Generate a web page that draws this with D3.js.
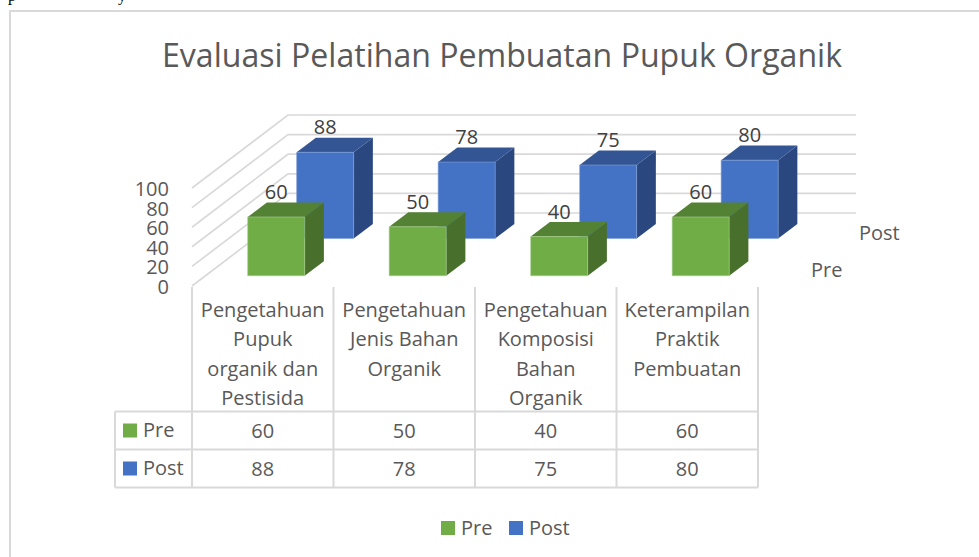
<!DOCTYPE html>
<html lang="id">
<head>
    <meta charset="UTF-8">
    <script src="https://d3js.org/d3.v7.min.js"></script>
    <style>
        html, body { margin: 0; padding: 0; background: #fff; overflow: hidden; }
        text { font-family: "Open Sans", Lato, sans-serif; fill: #595959; }
    </style>
</head>
<body>
    <svg id="chart" width="979" height="557"></svg>
    <script>
        const title = "Evaluasi Pelatihan Pembuatan Pupuk Organik";
        const categories = ["c1", "c2", "c3", "c4"];
        const categoryLines = [
            ["Pengetahuan", "Pupuk", "organik dan", "Pestisida"],
            ["Pengetahuan", "Jenis Bahan", "Organik"],
            ["Pengetahuan", "Komposisi", "Bahan", "Organik"],
            ["Keterampilan", "Praktik", "Pembuatan"]
        ];
        const seriesNames = ["Pre", "Post"];
        const preValues = [60, 50, 40, 60];
        const postValues = [88, 78, 75, 80];
        const yTicks = [0, 20, 40, 60, 80, 100];

        const svg = d3.select("#chart");
        const gridColor = "#d9d9d9";
        const labelSize = "20px";
        const faces = {
            Pre: { front: "#70ad47", top: "#548235", side: "#48702c", edge: "#a5cf8c" },
            Post: { front: "#4472c4", top: "#335593", side: "#2a4780", edge: "#7f9fd8" }
        };

        // chart frame
        svg.append("path")
            .attr("d", "M10,557V11H979")
            .attr("fill", "none")
            .attr("stroke", gridColor)
            .attr("stroke-width", 2);

        // line of page text above the chart, cut off in the source
        svg.append("text")
            .attr("x", 8).attr("y", 1)
            .style("font-family", "'Liberation Serif', serif")
            .style("font-size", "16px")
            .style("fill", "#000")
            .text("p");
        svg.append("text")
            .attr("x", 118).attr("y", 1)
            .style("font-family", "'Liberation Serif', serif")
            .style("font-size", "16px")
            .style("fill", "#000")
            .text("y");

        svg.append("text")
            .attr("x", 502).attr("y", 67)
            .attr("text-anchor", "middle")
            .attr("textLength", 680)
            .attr("lengthAdjust", "spacingAndGlyphs")
            .style("font-size", "32px")
            .text(title);

        // 3d projection: category band, value, depth (0 = front wall, 1 = back wall)
        const x = d3.scaleBand().domain(categories).range([192, 758]);
        const y = d3.scaleLinear().domain([0, 100]).range([286, 188]);
        const depth = d3.scaleLinear().domain([0, 1]).range([0, 96]);
        const rise = d3.scaleLinear().domain([0, 1]).range([0, 73]);
        const project = (px, v, d) => [px + depth(d), y(v) - rise(d)];
        const poly = pts => d3.line()(pts) + "Z";

        // gridlines across side wall and back wall
        svg.append("g").selectAll("path")
            .data(yTicks)
            .join("path")
            .attr("d", v => d3.line()([project(x.range()[0], v, 0), project(x.range()[0], v, 1), [856, project(x.range()[0], v, 1)[1]]]))
            .attr("fill", "none")
            .attr("stroke", gridColor)
            .attr("stroke-width", 1.7);

        // y tick labels
        svg.append("g").selectAll("text")
            .data(yTicks)
            .join("text")
            .attr("x", 169)
            .attr("y", v => y(v) + 8)
            .attr("text-anchor", "end")
            .style("font-size", labelSize)
            .text(v => v);

        // bars, Post (back row) is drawn first
        const seriesDepth = { Pre: 0.14, Post: 0.65 };
        const barDepth = 0.2;
        const barWidth = 57;
        const rows = [
            { name: "Post", values: postValues },
            { name: "Pre", values: preValues }
        ];

        rows.forEach(row => {
            const c = faces[row.name];
            const d0 = seriesDepth[row.name], d1 = d0 + barDepth;
            const g = svg.append("g");
            const bars = g.selectAll("g")
                .data(row.values.map((v, i) => ({ v, cat: categories[i] })))
                .join("g");
            const left = d => x(d.cat) + x.bandwidth() / 2 - barWidth / 2;
            bars.append("path").attr("fill", c.side)
                .attr("d", d => poly([
                    project(left(d) + barWidth, d.v, d0), project(left(d) + barWidth, d.v, d1),
                    project(left(d) + barWidth, 0, d1), project(left(d) + barWidth, 0, d0)
                ]));
            bars.append("path").attr("fill", c.top)
                .attr("d", d => poly([
                    project(left(d), d.v, d0), project(left(d), d.v, d1),
                    project(left(d) + barWidth, d.v, d1), project(left(d) + barWidth, d.v, d0)
                ]));
            bars.append("path").attr("fill", c.front)
                .attr("stroke", c.edge).attr("stroke-width", 0.6)
                .attr("d", d => poly([
                    project(left(d), d.v, d0), project(left(d) + barWidth, d.v, d0),
                    project(left(d) + barWidth, 0, d0), project(left(d), 0, d0)
                ]));
            bars.append("text")
                .attr("x", d => project(left(d) + barWidth / 2, d.v, d0)[0])
                .attr("y", d => project(left(d), d.v, d0)[1] - 18)
                .attr("text-anchor", "middle")
                .style("font-size", labelSize)
                .style("fill", "#404040")
                .text(d => d.v);
        });

        // depth axis labels
        svg.append("text").attr("x", 859).attr("y", 240).style("font-size", labelSize).text(seriesNames[1]);
        svg.append("text").attr("x", 811).attr("y", 277).style("font-size", labelSize).text(seriesNames[0]);

        // data table
        const rowTop = 411.5, rowH = 38;
        const rowY = d3.scaleBand().domain(seriesNames).range([rowTop, rowTop + 2 * rowH]);
        const tableLeft = 115;
        const table = svg.append("g").attr("stroke", gridColor).attr("stroke-width", 2);

        x.domain().concat("end").forEach((c, i) => {
            const px = i < categories.length ? x(c) : x.range()[1];
            table.append("line")
                .attr("x1", px).attr("x2", px)
                .attr("y1", 287).attr("y2", rowTop + 2 * rowH);
        });
        [rowTop, rowTop + rowH, rowTop + 2 * rowH].forEach(py => {
            table.append("line")
                .attr("x1", tableLeft).attr("x2", x.range()[1])
                .attr("y1", py).attr("y2", py);
        });
        table.append("line")
            .attr("x1", tableLeft).attr("x2", tableLeft)
            .attr("y1", rowTop).attr("y2", rowTop + 2 * rowH);

        categoryLines.forEach((lines, i) => {
            svg.append("g").selectAll("text")
                .data(lines)
                .join("text")
                .attr("x", x(categories[i]) + x.bandwidth() / 2)
                .attr("y", (d, j) => 316.5 + j * 29.5)
                .attr("text-anchor", "middle")
                .style("font-size", labelSize)
                .text(d => d);
        });

        rows.slice().reverse().forEach(row => {
            const top = rowY(row.name);
            svg.append("rect")
                .attr("x", 123).attr("y", top + 12)
                .attr("width", 14).attr("height", 14)
                .attr("fill", faces[row.name].front);
            svg.append("text")
                .attr("x", 143).attr("y", top + 25)
                .style("font-size", labelSize)
                .text(row.name);
            svg.append("g").selectAll("text")
                .data(row.values)
                .join("text")
                .attr("x", (d, i) => x(categories[i]) + x.bandwidth() / 2)
                .attr("y", top + 26)
                .attr("text-anchor", "middle")
                .style("font-size", labelSize)
                .text(d => d);
        });

        // legend
        const legendX = d3.scaleOrdinal().domain(seriesNames).range([441, 509]);
        seriesNames.forEach(name => {
            svg.append("rect")
                .attr("x", legendX(name)).attr("y", 521)
                .attr("width", 14).attr("height", 14)
                .attr("fill", faces[name].front);
            svg.append("text")
                .attr("x", legendX(name) + 20).attr("y", 535)
                .style("font-size", labelSize)
                .text(name);
        });
    </script>
</body>
</html>
